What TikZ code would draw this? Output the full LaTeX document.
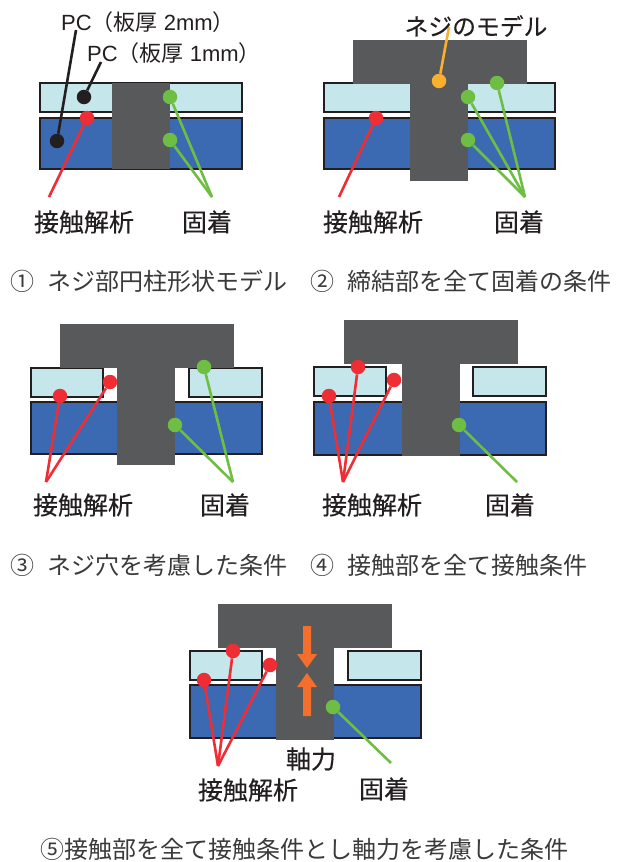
\documentclass[tikz,border=0pt]{standalone}
\usepackage{fontspec}
\setmainfont{Liberation Sans}
\newfontfamily\cjk{Noto Sans CJK JP}
\newfontfamily\cjktag[FakeBold=0.35]{Noto Sans CJK JP}
\usetikzlibrary{arrows.meta}

\definecolor{platelight}{HTML}{C5E6EA}
\definecolor{plateblue}{HTML}{3B6AB2}
\definecolor{boltgray}{HTML}{58595B}
\definecolor{inkblack}{HTML}{231F20}
\definecolor{dotred}{HTML}{EE2D34}
\definecolor{dotgreen}{HTML}{6FBE44}
\definecolor{dotorange}{HTML}{FBB02D}
\definecolor{forceorange}{HTML}{F36F2B}
\definecolor{captiongray}{HTML}{3A3A3A}

\tikzset{
    lightplate/.style={draw=inkblack, line width=1.3pt, fill=platelight},
    blueplate/.style={draw=inkblack, line width=1.3pt, fill=plateblue},
    bolt/.style={fill=boltgray},
    dot/.style={circle, inner sep=0pt, minimum size=14.5pt, fill=#1},
    lead/.style={line width=2.6pt, draw=#1},
    tag/.style={font=\cjktag\fontsize{25}{25}\selectfont, text=inkblack, inner sep=0pt},
    screwtag/.style={font=\cjktag\fontsize{23.8}{24}\selectfont, text=inkblack, inner sep=0pt},
    pclabel/.style={font=\fontsize{22}{22}\selectfont, text=inkblack, inner sep=0pt, anchor=west},
    caption/.style={font=\cjk\fontsize{24}{24}\selectfont, text=captiongray, inner sep=0pt, anchor=west},
    force/.style={fill=forceorange}
}

\begin{document}
\begin{tikzpicture}[x=1pt,y=-1pt]
    \useasboundingbox (0,0) rectangle (619,862);

    % Plates
    \foreach \xa/\ya/\xb/\yb in {40/83/242/112, 324/83/555/112, 31/368/103/397, 189/368/262/397,
                                 314/367/386/396, 473/367/546/396, 190/651/262/680, 348/651/421/680} {
        \draw[lightplate] (\xa,\ya) rectangle (\xb,\yb);
    }
    \foreach \xa/\ya/\xb/\yb in {40/118/242/169, 324/118/555/169, 31/402/262/454,
                                 314/402/546/455, 190/685/421/738} {
        \draw[blueplate] (\xa,\ya) rectangle (\xb,\yb);
    }

    % Bolts
    \fill[bolt] (112,83) rectangle (170,169);
    \foreach \x/\y/\s/\b in {353/40/57/181, 60/324/57/465, 344/320/58/456, 218/604/58/740} {
        \fill[bolt] (\x,\y) rectangle ++(173.5,43.5);
        \fill[bolt] (\x+\s,\y+43) rectangle (\x+\s+58,\b);
    }

    % Axial force arrows
    \fill[force] (303,626) -- (311,626) -- (311,654) -- (317,654) -- (307,668) -- (297,654) -- (303,654) -- cycle;
    \fill[force] (303,716) -- (311,716) -- (311,687) -- (317,687) -- (307,673) -- (297,687) -- (303,687) -- cycle;

    % Panel 1
    \node[dot=inkblack] (pcb) at (57,141) {};
    \node[dot=inkblack] (pct) at (84,97) {};
    \node[dot=dotred] (ra) at (87,118) {};
    \node[dot=dotgreen] (ga) at (170,97) {};
    \node[dot=dotgreen] (gb) at (170,140) {};
    \coordinate (pcbend) at (76,30);
    \coordinate (pctend) at (101,62);
    \coordinate (rend) at (49,197);
    \coordinate (gend) at (212,197);
    \draw[lead=inkblack] (pcb) -- (pcbend);
    \draw[lead=inkblack] (pct) -- (pctend);
    \draw[lead=dotred] (ra) -- (rend);
    \foreach \p in {ga,gb} {
        \draw[lead=dotgreen] (\p) -- (gend);
    }
    \node[pclabel] (pctwo) at (61,22) {PC{\cjk（板厚} 2mm{\cjk）}};
    \node[pclabel] (pcone) at (87,53) {PC{\cjk（板厚} 1mm{\cjk）}};
    \node[tag] (conta) at (84,222) {接触解析};
    \node[tag] (fixa) at (207,222) {固着};
    \node[caption] (capa) at (10,281) {①\hspace{13pt}ネジ部円柱形状モデル};

    % Panel 2
    \node[dot=dotorange] (oc) at (439,81) {};
    \node[dot=dotred] (rb) at (376,118) {};
    \node[dot=dotgreen] (gc) at (468,97) {};
    \node[dot=dotgreen] (gd) at (468,140) {};
    \node[dot=dotgreen] (ge) at (497,83) {};
    \coordinate (oend) at (449,27);
    \coordinate (rbend) at (339,197);
    \coordinate (gbend) at (525,197);
    \draw[lead=dotorange] (oc) -- (oend);
    \draw[lead=dotred] (rb) -- (rbend);
    \foreach \p in {gc,gd,ge} {
        \draw[lead=dotgreen] (\p) -- (gbend);
    }
    \node[screwtag] (screw) at (476,26) {ネジのモデル};
    \node[tag] (contb) at (373,222) {接触解析};
    \node[tag] (fixb) at (519,222) {固着};
    \node[caption] (capb) at (310,281) {②\hspace{13pt}締結部を全て固着の条件};

    % Panel 3
    \node[dot=dotred] (rc) at (60,396) {};
    \node[dot=dotred] (rd) at (110,382) {};
    \node[dot=dotgreen] (gf) at (204,367) {};
    \node[dot=dotgreen] (gg) at (175,425) {};
    \coordinate (rcend) at (46,482);
    \coordinate (gcend) at (233,482);
    \foreach \p in {rc,rd} {
        \draw[lead=dotred] (\p) -- (rcend);
    }
    \foreach \p in {gf,gg} {
        \draw[lead=dotgreen] (\p) -- (gcend);
    }
    \node[tag] (contc) at (83,505) {接触解析};
    \node[tag] (fixc) at (225,505) {固着};
    \node[caption] (capc) at (10,565) {③\hspace{13pt}ネジ穴を考慮した条件};

    % Panel 4
    \node[dot=dotred] (re) at (329,396) {};
    \node[dot=dotred] (rf) at (358,367) {};
    \node[dot=dotred] (rg) at (394,380) {};
    \node[dot=dotgreen] (gh) at (459,425) {};
    \coordinate (rdend) at (343,482);
    \coordinate (gdend) at (517,482);
    \foreach \p in {re,rf,rg} {
        \draw[lead=dotred] (\p) -- (rdend);
    }
    \draw[lead=dotgreen] (gh) -- (gdend);
    \node[tag] (contd) at (372,505) {接触解析};
    \node[tag] (fixd) at (510,505) {固着};
    \node[caption] (capd) at (310,565) {④\hspace{13pt}接触部を全て接触条件};

    % Panel 5
    \node[dot=dotred] (rh) at (204,680) {};
    \node[dot=dotred] (ri) at (233,651) {};
    \node[dot=dotred] (rj) at (270,665) {};
    \node[dot=dotgreen] (gi) at (333,707) {};
    \coordinate (reend) at (218,766);
    \coordinate (geend) at (391,763);
    \foreach \p in {rh,ri,rj} {
        \draw[lead=dotred] (\p) -- (reend);
    }
    \draw[lead=dotgreen] (gi) -- (geend);
    \node[tag] (axial) at (311,759) {軸力};
    \node[tag] (conte) at (248,790) {接触解析};
    \node[tag] (fixe) at (384,789) {固着};
    \node[caption] (cape) at (40,849) {⑤接触部を全て接触条件とし軸力を考慮した条件};
\end{tikzpicture}
\end{document}
